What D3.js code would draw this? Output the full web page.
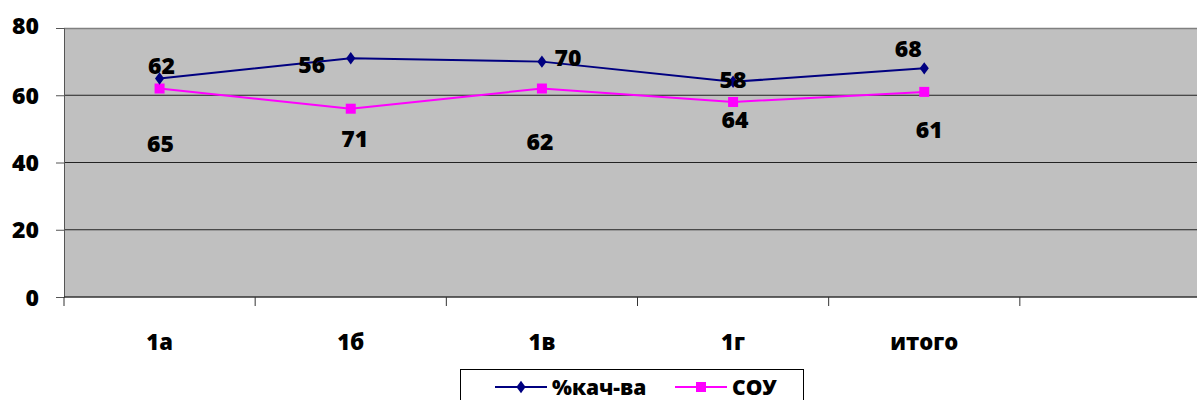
<!DOCTYPE html>
<html>
<head>
<meta charset="utf-8">
<script src="https://cdn.jsdelivr.net/npm/d3@7"></script>
<style>
  body { margin: 0; background: #fff; }
  svg { display: block; font-family: "Open Sans", "DejaVu Sans", sans-serif; font-weight: 800; }
</style>
</head>
<body>
<div id="chart"></div>
<script>
// categories (last slot is empty, as in the original sheet)
const categories = ['1а', '1б', '1в', '1г', 'итого', ''];
const kachValues = [65, 71, 70, 64, 68];
const souValues = [62, 56, 62, 58, 61];
const yTicks = [0, 20, 40, 60, 80];
// data labels as they sit on the original picture
const upperLabels = ['62', '56', '70', '58', '68'];
const lowerLabels = ['65', '71', '62', '64', '61'];

// label offsets from the category centre / the blue point (layout only)
const upperOffsets = [[2, -4], [-39, 15], [26, 4], [0, 6], [-16, -11]];
const lowerBaselines = [152, 147, 150, 128, 138];
const lowerDx = [1, 4, -2, 2, 5];

const width = 1197, height = 400;
const margin = { top: 28, left: 64, bottom: 103 };
const plotW = 1147;
const plotH = height - margin.top - margin.bottom;

const svg = d3.select('#chart').append('svg')
    .attr('width', width)
    .attr('height', height);

const x = d3.scaleBand()
    .domain(d3.range(categories.length))
    .range([margin.left, margin.left + plotW]);

const y = d3.scaleLinear()
    .domain([0, 80])
    .range([margin.top + plotH, margin.top]);

const cx = i => x(i) + x.bandwidth() / 2;

// plot background
svg.append('rect')
    .attr('x', margin.left)
    .attr('y', y(80))
    .attr('width', plotW)
    .attr('height', y(0) - y(80))
    .attr('fill', '#c0c0c0');

// gridlines
svg.append('g')
    .selectAll('line')
    .data(yTicks.filter(d => d > 0 && d < 80))
    .join('line')
    .attr('x1', margin.left)
    .attr('x2', margin.left + plotW)
    .attr('y1', d => y(d))
    .attr('y2', d => y(d))
    .attr('stroke', '#222')
    .attr('stroke-width', 1);

svg.append('line')
    .attr('x1', margin.left).attr('x2', margin.left + plotW)
    .attr('y1', y(80) + 0.5).attr('y2', y(80) + 0.5)
    .attr('stroke', '#808080').attr('stroke-width', 1.5);

// y axis
const yAxis = svg.append('g')
    .attr('transform', `translate(${margin.left},0)`)
    .call(d3.axisLeft(y).tickValues(yTicks).tickSize(8).tickPadding(17));
yAxis.select('.domain').attr('stroke', '#555');
yAxis.selectAll('.tick line').attr('stroke', '#555');
yAxis.selectAll('text')
    .attr('font-size', 23)
    .attr('font-family', '"Open Sans", sans-serif')
    .attr('font-weight', 800)
    .attr('fill', '#000')
    .attr('dy', '0.35em');
yAxis.select('.tick:last-of-type text').attr('dy', '0.25em');

// x axis: ticks between categories
const xAxisY = y(0);
svg.append('line')
    .attr('x1', margin.left).attr('x2', margin.left + plotW)
    .attr('y1', xAxisY).attr('y2', xAxisY)
    .attr('stroke', '#333').attr('stroke-width', 1.5);

svg.append('g')
    .selectAll('line')
    .data(d3.range(categories.length + 1))
    .join('line')
    .attr('x1', i => margin.left + i * x.step())
    .attr('x2', i => margin.left + i * x.step())
    .attr('y1', xAxisY)
    .attr('y2', xAxisY + 9)
    .attr('stroke', '#333');

svg.append('g')
    .selectAll('text')
    .data(categories)
    .join('text')
    .attr('x', (d, i) => cx(i))
    .attr('y', 350)
    .attr('text-anchor', 'middle')
    .attr('font-size', 22)
    .text(d => d);

// series lines
const line = d3.line()
    .x((d, i) => cx(i))
    .y(d => y(d));

svg.append('path')
    .datum(souValues)
    .attr('d', line)
    .attr('fill', 'none')
    .attr('stroke', '#ff00ff')
    .attr('stroke-width', 2);

svg.append('g')
    .selectAll('rect')
    .data(souValues)
    .join('rect')
    .attr('x', (d, i) => cx(i) - 5)
    .attr('y', d => y(d) - 5)
    .attr('width', 10)
    .attr('height', 10)
    .attr('fill', '#ff00ff');

svg.append('path')
    .datum(kachValues)
    .attr('d', line)
    .attr('fill', 'none')
    .attr('stroke', '#000080')
    .attr('stroke-width', 2);

const diamond = d3.symbol().type(d3.symbolDiamond).size(55);
svg.append('g')
    .selectAll('path')
    .data(kachValues)
    .join('path')
    .attr('d', diamond)
    .attr('transform', (d, i) => `translate(${cx(i)},${y(d)}) scale(1.15,0.9)`)
    .attr('fill', '#000080');

// data labels
svg.append('g')
    .selectAll('text')
    .data(upperLabels)
    .join('text')
    .attr('x', (d, i) => cx(i) + upperOffsets[i][0])
    .attr('y', (d, i) => y(kachValues[i]) + upperOffsets[i][1])
    .attr('text-anchor', 'middle')
    .attr('font-size', 23)
    .text(d => d);

svg.append('g')
    .selectAll('text')
    .data(lowerLabels)
    .join('text')
    .attr('x', (d, i) => cx(i) + lowerDx[i])
    .attr('y', (d, i) => lowerBaselines[i])
    .attr('text-anchor', 'middle')
    .attr('font-size', 23)
    .text(d => d);

// legend
const legend = svg.append('g').attr('transform', 'translate(460,369)');
legend.append('rect')
    .attr('x', 0.5).attr('y', 0.5)
    .attr('width', 343).attr('height', 40)
    .attr('fill', '#fff')
    .attr('stroke', '#000');

const legendItems = [
  { name: '%кач-ва', color: '#000080', shape: 'diamond', x: 35 },
  { name: 'СОУ', color: '#ff00ff', shape: 'square', x: 215 }
];

const li = legend.selectAll('.legend-item')
    .data(legendItems)
    .join('g')
    .attr('class', 'legend-item')
    .attr('transform', d => `translate(${d.x},18)`);

li.append('line')
    .attr('x1', 0).attr('x2', 52)
    .attr('stroke', d => d.color)
    .attr('stroke-width', 2);

li.each(function (d) {
  const g = d3.select(this);
  if (d.shape === 'diamond') {
    g.append('path').attr('d', diamond).attr('transform', 'translate(26,0) scale(1.15,0.9)').attr('fill', d.color);
  } else {
    g.append('rect').attr('x', 21).attr('y', -5).attr('width', 10).attr('height', 10).attr('fill', d.color);
  }
});

li.append('text')
    .attr('x', 57)
    .attr('y', 8)
    .attr('font-size', 21)
    .text(d => d.name);
</script>
</body>
</html>
